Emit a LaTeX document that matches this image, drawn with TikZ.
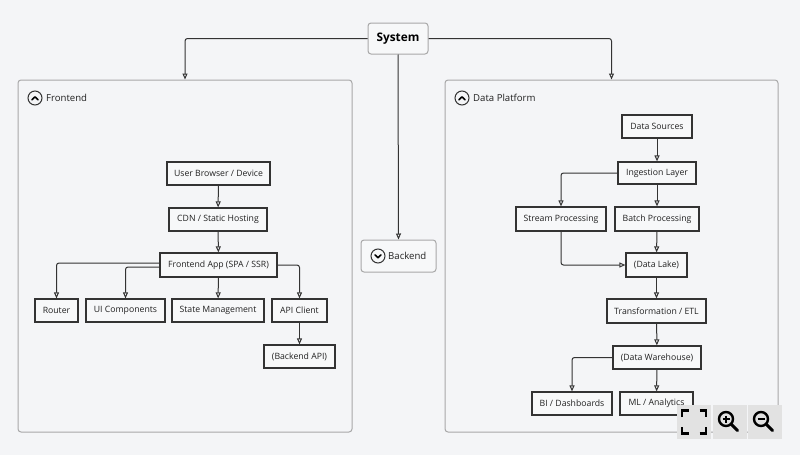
\documentclass[tikz,border=0pt]{standalone}
\usepackage{fontspec}
\setmainfont{Open Sans}
\usetikzlibrary{arrows.meta}
\definecolor{bg}{HTML}{F4F5F7}
\definecolor{nf}{HTML}{F7F8F9}
\definecolor{ln}{HTML}{333333}
\definecolor{gb}{HTML}{A8A8A8}
\definecolor{tx}{HTML}{222222}
\definecolor{btn}{HTML}{E2E2E2}
\begin{document}
\begin{tikzpicture}[x=1pt,y=-1pt,
  box/.style={draw=ln, line width=1.2pt, fill=nf, minimum height=23pt, inner sep=0pt, font=\fontsize{8.7}{10}\selectfont, text=tx},
  grp/.style={draw=gb, line width=1pt, rounded corners=3pt, inner sep=0pt},
  conn/.style={draw=ln, line width=1pt, rounded corners=2.5pt, -{Triangle[open,length=6pt,width=5pt]}},
  ttl/.style={anchor=west, inner sep=0pt, font=\fontsize{9.6}{11}\selectfont, text=tx},
  ico/.style={draw=ln, line width=1pt},
  chev/.style={draw=black, line width=1.5pt, line cap=round, line join=round},
  tool/.style={draw=black, line width=2.6pt},
]
\useasboundingbox[fill=bg] (0,0) rectangle (800,455);

% groups
\node[grp, minimum width=334pt, minimum height=352pt] (fe) at (185,256) {};
\node[grp, minimum width=333pt, minimum height=352pt] (dp) at (611.5,256) {};
\node[grp, fill=nf, minimum width=75pt, minimum height=32pt] (be) at (398.5,256) {};
\node[grp, fill=nf, minimum width=60pt, minimum height=31pt] (sys) at (398,38.5) {};
\node[anchor=center, inner sep=0pt, font=\bfseries\fontsize{11.8}{14}\selectfont, text=black] (systxt) at (sys.center) {System};

% titles
\draw[ico] (35,98) circle (7);
\draw[chev] (32,99.8) -- (35,96.8) -- (38,99.8);
\node[ttl] (fet) at (46,98) {Frontend};
\draw[ico] (462,98) circle (7);
\draw[chev] (459,99.8) -- (462,96.8) -- (465,99.8);
\node[ttl] (dpt) at (473,98) {Data Platform};
\draw[ico] (378,256) circle (7);
\draw[chev] (375,254.8) -- (378,257.8) -- (381,254.8);
\node[ttl] (bet) at (388,256) {Backend};

% frontend nodes
\node[box, minimum width=103pt] (ub) at (218.5,173.5) {User Browser / Device};
\node[box, minimum width=98pt] (cdn) at (218,219.5) {CDN / Static Hosting};
\node[box, minimum width=117pt, minimum height=24pt] (app) at (218.5,265) {Frontend App (SPA / SSR)};
\node[box, minimum width=43pt] (router) at (56.5,310.5) {Router};
\node[box, minimum width=79pt] (ui) at (125.5,310.5) {UI Components};
\node[box, minimum width=92pt] (state) at (218,310.5) {State Management};
\node[box, minimum width=55pt] (api) at (299.5,310.5) {API Client};
\node[box, minimum width=71pt] (bapi) at (299.5,356.5) {(Backend API)};

% data platform nodes
\node[box, minimum width=70pt] (ds) at (657,126.5) {Data Sources};
\node[box, minimum width=78pt, minimum height=22pt] (ing) at (657,173) {Ingestion Layer};
\node[box, minimum width=90pt, minimum height=24pt] (stream) at (561,219) {Stream Processing};
\node[box, minimum width=84pt, minimum height=24pt] (batch) at (657,219) {Batch Processing};
\node[box, minimum width=61pt, minimum height=24pt] (lake) at (656.5,265) {(Data Lake)};
\node[box, minimum width=99pt, minimum height=24pt] (etl) at (656.5,311) {Transformation / ETL};
\node[box, minimum width=88pt] (dw) at (657,357.5) {(Data Warehouse)};
\node[box, minimum width=80pt] (bi) at (572,403.5) {BI / Dashboards};
\node[box, minimum width=73pt] (ml) at (656.5,403.5) {ML / Analytics};

% system connectors
\draw[conn] (sys.west) -| (fe.north);
\draw[conn] (sys.east) -| (dp.north);
\draw[conn] (sys.south) -- (be.north);

% frontend connectors
\draw[conn] (ub) -- (cdn);
\draw[conn] (cdn) -- (app);
\draw[conn] ([yshift=2pt]app.west) -| (router.north);
\draw[conn] ([yshift=-2pt]app.west) -| (ui.north);
\draw[conn] (app) -- (state);
\draw[conn] (app.east) -| (api.north);
\draw[conn] (api) -- (bapi);

% data connectors
\draw[conn] (ds) -- (ing);
\draw[conn] (ing.west) -| (stream.north);
\draw[conn] (ing) -- (batch);
\draw[conn] (batch) -- (lake);
\draw[conn] (stream.south) |- (lake.west);
\draw[conn] (lake) -- (etl);
\draw[conn] (etl) -- (dw);
\draw[conn] (dw.west) -| (bi.north);
\draw[conn] (dw) -- (ml);

% toolbar
\fill[btn] (677,405) rectangle (711,439);
\fill[btn] (712.5,405) rectangle (746.5,439);
\fill[btn] (748,405) rectangle (782,439);
\draw[tool] (682,417) -- (682,410.5) -- (688.5,410.5);
\draw[tool] (699.5,410.5) -- (706,410.5) -- (706,417);
\draw[tool] (682,427) -- (682,433.5) -- (688.5,433.5);
\draw[tool] (699.5,433.5) -- (706,433.5) -- (706,427);
\draw[draw=black, line width=2.4pt] (726,419) circle (7);
\draw[draw=black, line width=3pt, line cap=round] (731.3,424.3) -- (737.5,430.5);
\draw[draw=black, line width=2pt] (722.5,419) -- (729.5,419) (726,415.5) -- (726,422.5);
\draw[draw=black, line width=2.4pt] (761,419) circle (7);
\draw[draw=black, line width=3pt, line cap=round] (766.3,424.3) -- (772.5,430.5);
\draw[draw=black, line width=2pt] (757.5,419) -- (764.5,419);
\end{tikzpicture}
\end{document}
